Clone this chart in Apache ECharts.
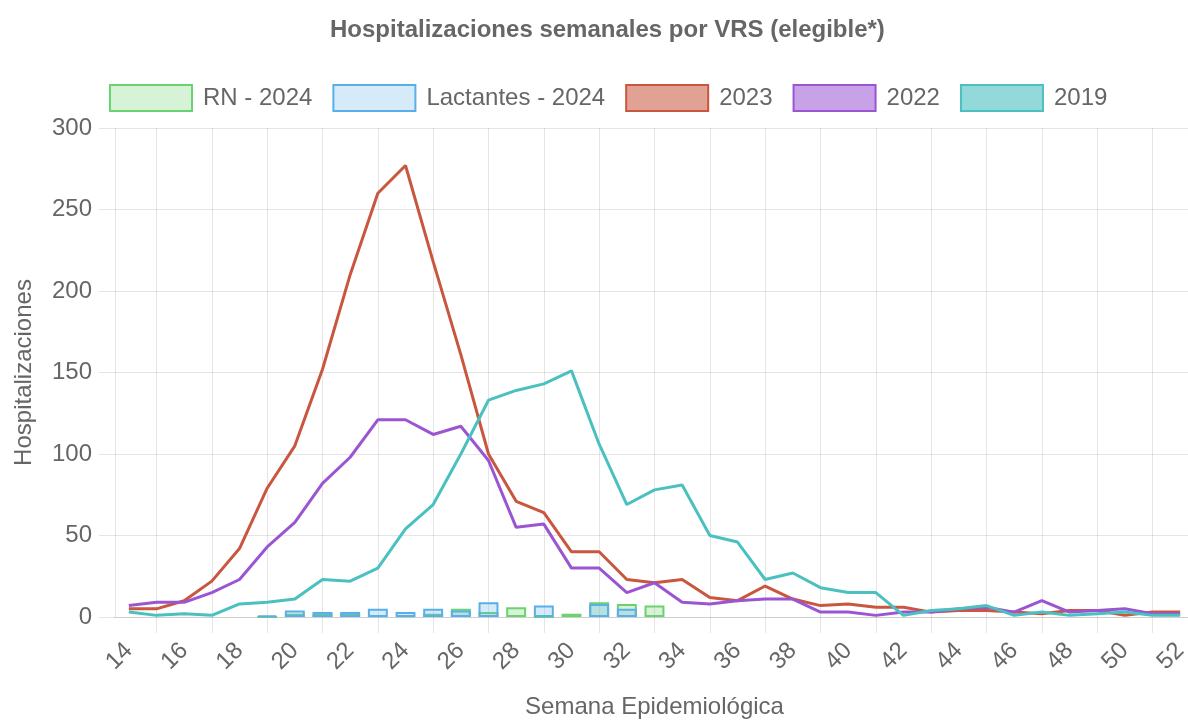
<!DOCTYPE html>
<html>
<head>
<meta charset="utf-8">
<title>Hospitalizaciones semanales por VRS</title>
<script src="https://cdn.jsdelivr.net/npm/echarts@6/dist/echarts.min.js"></script>
<style>
  html, body { margin: 0; padding: 0; background: #fff; }
  #chart { width: 1188px; height: 721px; }
</style>
</head>
<body>
<div id="chart"></div>
<script>
// semanas epidemiologicas
const weeks = ['14','15','16','17','18','19','20','21','22','23','24','25','26',
  '27','28','29','30','31','32','33','34','35','36','37','38','39',
  '40','41','42','43','44','45','46','47','48','49','50','51','52'];

// barras 2024 (semana 14 -> 33)
const rn2024 = [null,null,null,null,null,0,2,2,2,1,1,2,5,3,6,0,2,9,8,7];
const lactantes2024 = [null,null,null,null,null,1,4,3,3,5,3,5,4,9,null,7,null,8,5,null];

// lineas historicas
const y2023 = [5,5,10,22,42,79,105,152,210,260,277,218,161,100,71,64,40,40,23,21,
  23,12,10,19,11,7,8,6,6,3,4,4,3,2,4,4,1,3,3];
const y2022 = [7,9,9,15,23,43,58,82,98,121,121,112,117,96,55,57,30,30,15,21,
  9,8,10,11,11,3,3,1,3,3,5,6,3,10,3,4,5,2,2];
const y2019 = [3,1,2,1,8,9,11,23,22,30,54,69,100,133,139,143,151,106,69,78,
  81,50,46,23,27,18,15,15,1,4,5,7,1,3,1,2,3,1,1];

const FONT = "'Liberation Sans', Arial, Helvetica, sans-serif";
const GRID = 'rgba(0,0,0,0.1)';
const oddOnly = function (idx) { return idx % 2 === 1; };

const chart = echarts.init(document.getElementById('chart'));

const option = {
  animation: false,
  textStyle: { fontFamily: FONT },
  title: {
    text: 'Hospitalizaciones semanales por VRS (elegible*)',
    left: 330,
    top: 18,
    padding: 0,
    textStyle: { fontSize: 24, fontWeight: 'bold', color: '#666', fontFamily: FONT }
  },
  legend: {
    left: 109,
    top: 84,
    padding: 0,
    itemWidth: 82,
    itemHeight: 26,
    itemGap: 20,
    textStyle: { fontSize: 24, color: '#666', fontFamily: FONT, padding: [0, 0, 0, 6] },
    data: [
      { name: 'RN - 2024', icon: 'rect', itemStyle: { color: 'rgba(106,210,111,0.28)', borderColor: '#6ad26f', borderWidth: 2 } },
      { name: 'Lactantes - 2024', icon: 'rect', itemStyle: { color: 'rgba(90,174,234,0.25)', borderColor: '#5aaeea', borderWidth: 2 } },
      { name: '2023', icon: 'rect', itemStyle: { color: 'rgba(201,86,62,0.55)', borderColor: '#c9563e', borderWidth: 2 } },
      { name: '2022', icon: 'rect', itemStyle: { color: 'rgba(155,85,210,0.55)', borderColor: '#9b55d2', borderWidth: 2 } },
      { name: '2019', icon: 'rect', itemStyle: { color: 'rgba(75,192,192,0.6)', borderColor: '#4bc0c0', borderWidth: 2 } }
    ]
  },
  grid: { left: 115, top: 128, width: 1079, height: 489, outerBoundsMode: 'none', containLabel: false },
  xAxis: {
    type: 'category',
    data: weeks,
    boundaryGap: true,
    name: 'Semana Epidemiológica',
    nameLocation: 'middle',
    nameGap: 78,
    nameTextStyle: { fontSize: 24, color: '#666' },
    axisLine: { show: true, lineStyle: { color: '#cfcfcf', width: 1 } },
    axisTick: { show: true, alignWithLabel: true, interval: oddOnly, length: 16, lineStyle: { color: GRID } },
    splitLine: { show: true, alignWithLabel: true, interval: oddOnly, lineStyle: { color: GRID } },
    axisLabel: { interval: 1, rotate: 45, margin: 30, fontSize: 24, color: '#666' }
  },
  yAxis: {
    type: 'value',
    min: 0,
    max: 300,
    interval: 50,
    name: 'Hospitalizaciones',
    nameLocation: 'middle',
    nameGap: 79,
    nameTextStyle: { fontSize: 24, color: '#666' },
    axisLine: { show: true, lineStyle: { color: GRID } },
    axisTick: { show: true, length: 16, lineStyle: { color: GRID } },
    splitLine: { lineStyle: { color: GRID } },
    axisLabel: { margin: 23, fontSize: 24, color: '#666' }
  },
  series: [
    {
      name: 'RN - 2024', type: 'bar', data: rn2024,
      barWidth: '72%', barGap: '-100%',
      itemStyle: { color: 'rgba(106,210,111,0.28)', borderColor: '#6ad26f', borderWidth: 2 }
    },
    {
      name: 'Lactantes - 2024', type: 'bar', data: lactantes2024,
      barWidth: '72%', barGap: '-100%',
      itemStyle: { color: 'rgba(90,174,234,0.25)', borderColor: '#5aaeea', borderWidth: 2 }
    },
    {
      name: '2023', type: 'line', data: y2023, showSymbol: false,
      lineStyle: { color: '#c9563e', width: 3 }, itemStyle: { color: '#c9563e' }
    },
    {
      name: '2022', type: 'line', data: y2022, showSymbol: false,
      lineStyle: { color: '#9b55d2', width: 3 }, itemStyle: { color: '#9b55d2' }
    },
    {
      name: '2019', type: 'line', data: y2019, showSymbol: false,
      lineStyle: { color: '#4bc0c0', width: 3 }, itemStyle: { color: '#4bc0c0' }
    }
  ]
};

chart.setOption(option);
window.addEventListener('resize', function () { chart.resize(); });
</script>
</body>
</html>
